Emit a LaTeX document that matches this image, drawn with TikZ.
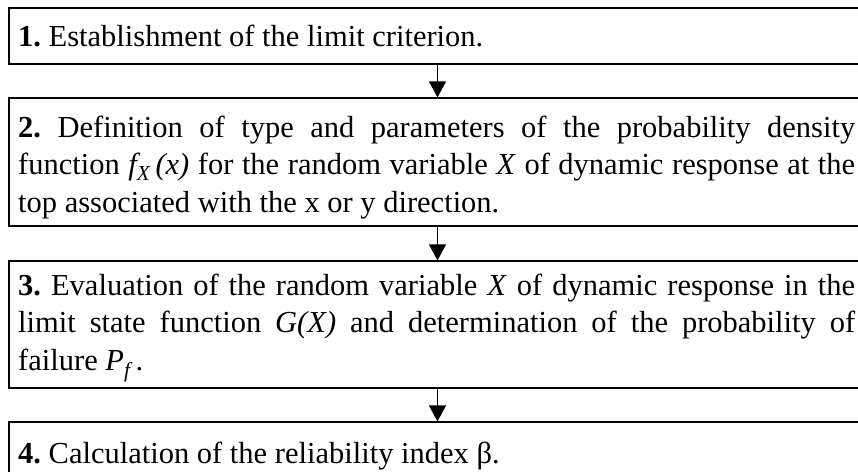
\documentclass[tikz,border=0pt]{standalone}
\usepackage{fontspec}
\setmainfont{Liberation Serif}
\usetikzlibrary{arrows.meta}
\newcommand{\vi}[1]{\textit{#1}}
\frenchspacing
\begin{document}
\begin{tikzpicture}[x=1pt,y=-1pt,
  stepbox/.style={draw=black,line width=1.2pt,rectangle,inner sep=0pt,minimum width=857pt},
  steptext/.style={anchor=base west,inner sep=0pt,text width=837pt,align=justify,
    font=\fontsize{30.5}{37.8}\selectfont\frenchspacing},
  arr/.style={line width=1.2pt,-{Triangle[length=16pt,width=17pt]}}]
\useasboundingbox (0,0) rectangle (858,471);
\node[stepbox,minimum height=56pt] (b1) at (437.5,36) {};
\node[stepbox,minimum height=128pt] (b2) at (437.5,162) {};
\node[stepbox,minimum height=127pt] (b3) at (437.5,324.5) {};
\node[stepbox,minimum height=70pt] (b4) at (437.5,457) {};
\node[steptext] (t1) at (18,46) {\textbf{1.} Establishment of the limit criterion.};
\node[steptext] (t2) at (18,137) {\textbf{2.} Definition of type and parameters of the probability density\linebreak function \vi{f\textsubscript{X}\,(x)} for the random variable \vi{X} of dynamic response at the\linebreak top associated with the x or y direction.};
\node[steptext] (t3) at (18,295) {\textbf{3.} Evaluation of the random variable \vi{X} of dynamic response in the\linebreak limit state function \vi{G(X)} and determination of the probability of\linebreak failure \vi{P\textsubscript{f}}\,.};
\node[steptext] (t4) at (18,463) {\textbf{4.} Calculation of the reliability index β.};
\draw[arr] (b1) -- (b2);
\draw[arr] (b2) -- (b3);
\draw[arr] (b3) -- (b4);
\end{tikzpicture}
\end{document}
